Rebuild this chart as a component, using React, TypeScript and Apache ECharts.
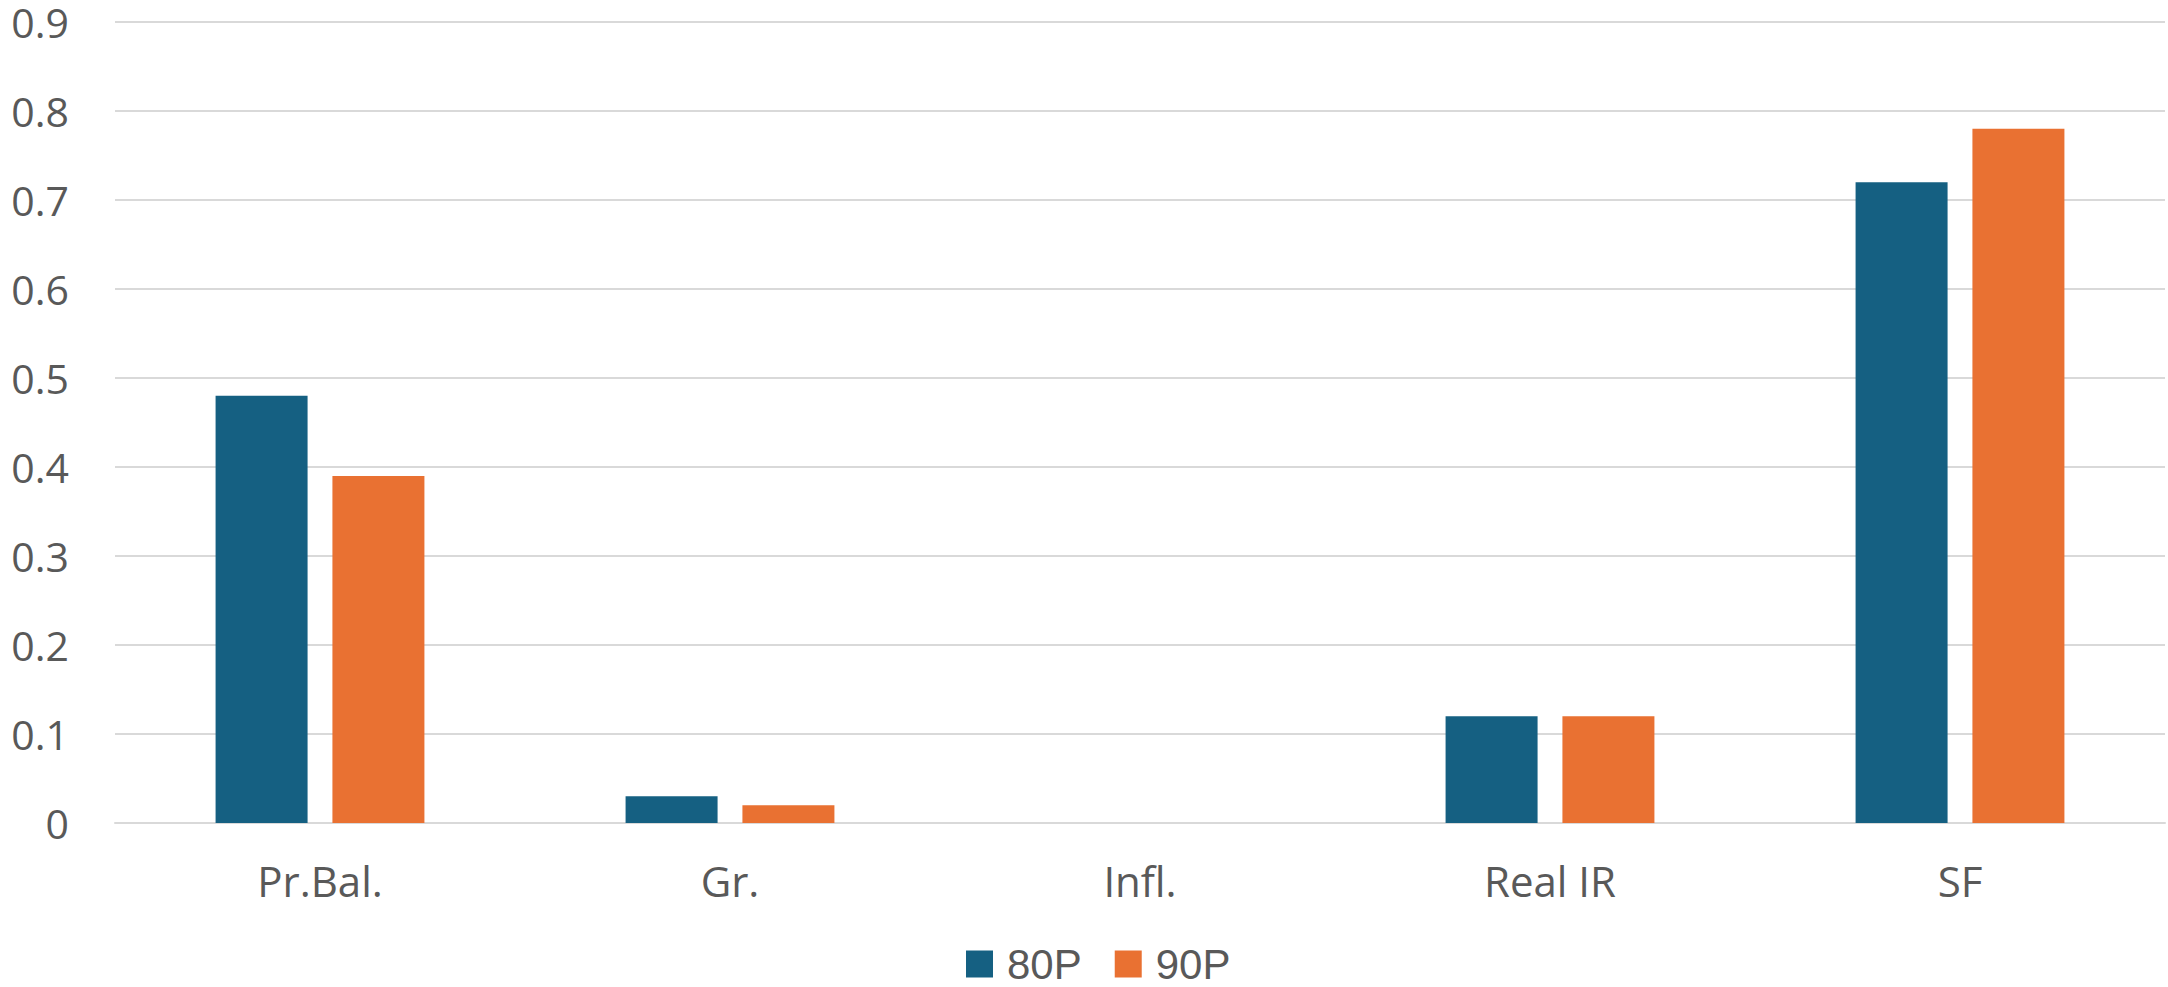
import React, { useEffect, useRef } from "react";
import * as echarts from "echarts";

const categories = ["Pr.Bal.", "Gr.", "Infl.", "Real IR", "SF"];
const series80P = [0.48, 0.03, 0, 0.12, 0.72];
const series90P = [0.39, 0.02, 0, 0.12, 0.78];
const seriesNames = ["80P", "90P"];

export default function App() {
  const ref = useRef<HTMLDivElement>(null);
  useEffect(() => {
    document.body.style.margin = "0";
    const chart = echarts.init(ref.current!, null, { renderer: "svg" });
    const font = "Open Sans";
    chart.setOption({
      animation: false,
      backgroundColor: "#ffffff",
      textStyle: { fontFamily: font },
      grid: { left: 115, right: 3, top: 22, bottom: 164, containLabel: false },
      legend: {
        data: seriesNames,
        left: 966,
        top: 942,
        padding: 0,
        itemWidth: 27,
        itemHeight: 27,
        itemGap: 33,
        icon: "rect",
        textStyle: {
          fontSize: 42,
          color: "#595959",
          fontFamily: "Liberation Sans",
          padding: [0, 0, 0, 9],
          lineHeight: 44,
        },
      },
      xAxis: {
        type: "category",
        data: categories,
        axisLine: { show: true, lineStyle: { color: "#d9d9d9", width: 2 } },
        axisTick: { show: false },
        axisLabel: { fontSize: 42, color: "#595959", margin: 36, fontFamily: font },
      },
      yAxis: {
        type: "value",
        min: 0,
        max: 0.9,
        interval: 0.1,
        axisLine: { show: false },
        axisTick: { show: false },
        splitLine: { lineStyle: { color: "#d9d9d9", width: 2 } },
        axisLabel: {
          fontSize: 41,
          lineHeight: 34,
          color: "#595959",
          margin: 46,
          fontFamily: font,
          formatter: (v: number) => (v === 0 ? "0" : String(Math.round(v * 10) / 10)),
        },
      },
      series: [
        {
          name: seriesNames[0],
          type: "bar",
          data: series80P,
          barWidth: 92,
          barGap: "27%",
          itemStyle: { color: "#156082" },
        },
        {
          name: seriesNames[1],
          type: "bar",
          data: series90P,
          barWidth: 92,
          barGap: "27%",
          itemStyle: { color: "#E97132" },
        },
      ],
    });
    return () => chart.dispose();
  }, []);
  return <div ref={ref} style={{ position: "absolute", left: 0, top: 0, width: 2168, height: 987 }} />;
}
